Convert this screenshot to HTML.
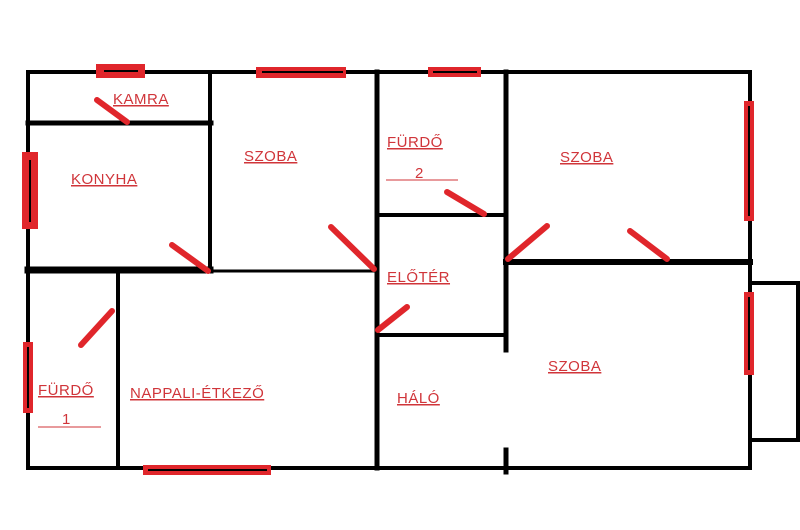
<!DOCTYPE html>
<html><head><meta charset="utf-8"><style>
html,body{margin:0;padding:0;background:#fff;}
svg{display:block;}
text{font-family:"Liberation Sans",sans-serif;font-size:15px;fill:#d0353a;text-decoration:underline;letter-spacing:0.5px;}
</style></head><body>
<svg width="800" height="530" viewBox="0 0 800 530" xmlns="http://www.w3.org/2000/svg">
<g stroke="#000" stroke-linecap="square" fill="none">
<rect x="28" y="72" width="722" height="396" stroke-width="4"/>
<line x1="28" y1="123" x2="211" y2="123" stroke-width="5"/>
<line x1="210" y1="72" x2="210" y2="271" stroke-width="4"/>
<line x1="28" y1="270" x2="210" y2="270" stroke-width="7"/>
<line x1="210" y1="271" x2="376" y2="271" stroke-width="3"/>
<line x1="377" y1="72" x2="377" y2="468" stroke-width="5"/>
<line x1="377" y1="215" x2="503" y2="215" stroke-width="4"/>
<line x1="506" y1="72" x2="506" y2="350" stroke-width="5"/>
<line x1="506" y1="450" x2="506" y2="472" stroke-width="5"/>
<line x1="506" y1="262" x2="750" y2="262" stroke-width="6"/>
<line x1="377" y1="335" x2="503" y2="335" stroke-width="4"/>
<line x1="118" y1="272" x2="118" y2="468" stroke-width="4"/>
<polyline points="750,283 798,283 798,440 750,440" stroke-width="4"/>
</g>
<g fill="#e0262b">
<rect x="96" y="64" width="49" height="14"/>
<rect x="256" y="67" width="90" height="11"/>
<rect x="428" y="67" width="53" height="10"/>
<rect x="22" y="152" width="16" height="77"/>
<rect x="744" y="101" width="10" height="120"/>
<rect x="744" y="292" width="10" height="83"/>
<rect x="23" y="342" width="10" height="71"/>
<rect x="143" y="465" width="128" height="10"/>
</g>
<g stroke="#000" stroke-width="2">
<line x1="104" y1="71" x2="138" y2="71"/>
<line x1="262" y1="72" x2="343" y2="72"/>
<line x1="433" y1="72" x2="477" y2="72"/>
<line x1="30" y1="160" x2="30" y2="222"/>
<line x1="749" y1="106" x2="749" y2="216"/>
<line x1="749" y1="297" x2="749" y2="370"/>
<line x1="28" y1="347" x2="28" y2="408"/>
<line x1="148" y1="470" x2="267" y2="470"/>
</g>
<g stroke="#e0262b" stroke-width="6" stroke-linecap="round">
<line x1="97" y1="100" x2="127" y2="122"/>
<line x1="172" y1="245" x2="208" y2="271"/>
<line x1="331" y1="227" x2="374" y2="269"/>
<line x1="447" y1="192" x2="484" y2="214"/>
<line x1="547" y1="226" x2="508" y2="259"/>
<line x1="630" y1="231" x2="667" y2="259"/>
<line x1="407" y1="307" x2="378" y2="330"/>
<line x1="112" y1="311" x2="81" y2="345"/>
</g>
<text x="113" y="104">KAMRA</text>
<text x="244" y="161">SZOBA</text>
<text x="71" y="184">KONYHA</text>
<text x="387" y="147">FÜRDŐ</text>
<text x="415" y="178" style="text-decoration:none">2</text>
<line x1="386" y1="180" x2="458" y2="180" stroke="#d0353a" stroke-width="1"/>
<text x="560" y="162">SZOBA</text>
<text x="387" y="282">ELŐTÉR</text>
<text x="548" y="371">SZOBA</text>
<text x="397" y="403">HÁLÓ</text>
<text x="130" y="398">NAPPALI-ÉTKEZŐ</text>
<text x="38" y="395">FÜRDŐ</text>
<text x="62" y="424" style="text-decoration:none">1</text>
<line x1="38" y1="427" x2="101" y2="427" stroke="#d0353a" stroke-width="1"/>
</svg>
</body></html>
